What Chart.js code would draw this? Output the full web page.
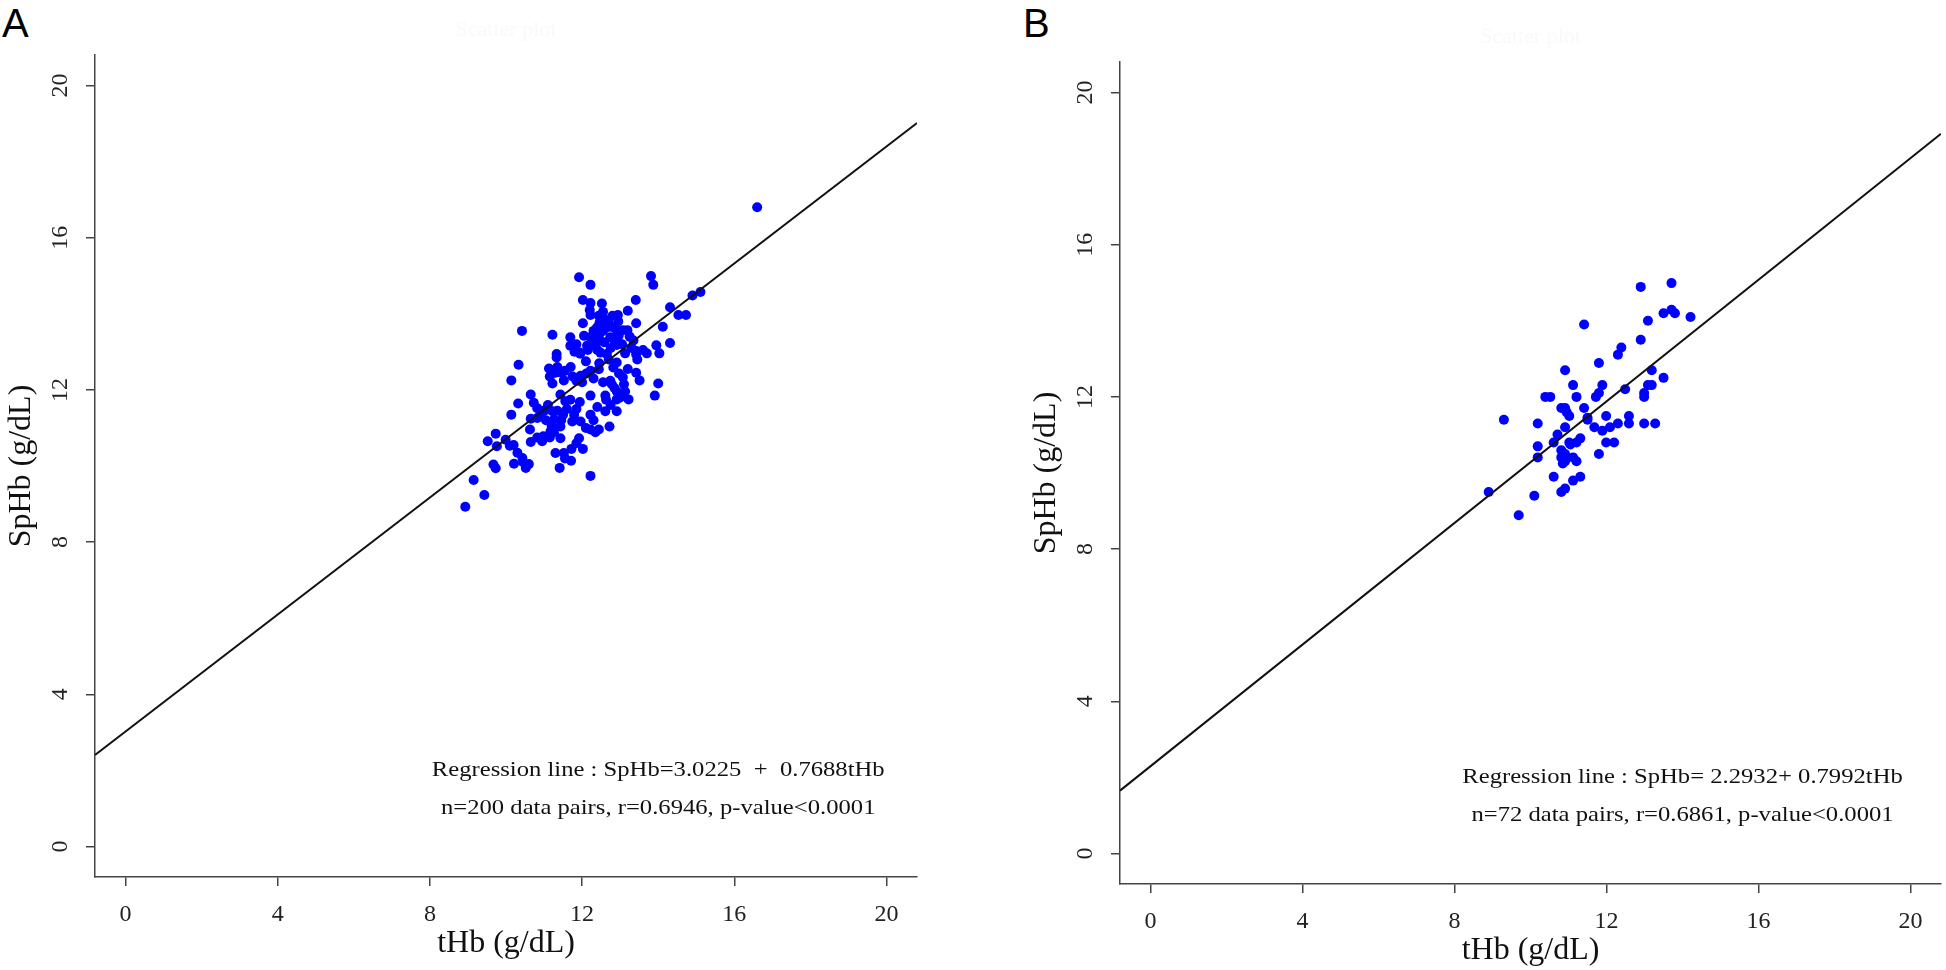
<!DOCTYPE html>
<html lang="en">
<head>
<meta charset="UTF-8">
<title>SpHb vs tHb</title>
<script src="https://cdn.jsdelivr.net/npm/chart.js"></script>
<style>
  body { margin: 0; background: #fff; width: 1946px; height: 970px; overflow: hidden; position: relative; }
  .panel { position: absolute; }
  .tag { position: absolute; font-family: 'Liberation Sans', Arial, sans-serif; font-size: 40px; line-height: 1; color: #000; }
</style>
</head>
<body>
<div class="tag" style="left:2px;top:3px">A</div>
<div class="tag" style="left:1023px;top:3px">B</div>
<div class="panel" style="left:0;top:0;width:960px;height:970px"><canvas id="chartA"></canvas></div>
<div class="panel" style="left:1025px;top:7px;width:921px;height:970px"><canvas id="chartB"></canvas></div>
<script>
// axis
const tickValues = [0, 4, 8, 12, 16, 20];
const axisMin = -0.8, axisMax = 20.8;

// panel A: 200 data pairs
const tHbA = [16.60, 11.92, 12.22, 13.81, 13.87, 12.02, 12.22, 12.52, 13.41, 14.31, 14.90, 15.11, 14.53, 14.73, 12.94, 13.20,
  12.22, 12.44, 12.02, 12.46, 12.69, 12.39, 12.65, 12.91, 13.19, 13.42, 14.12, 11.69, 12.05, 12.22, 12.44, 12.74, 12.96, 13.07,
  11.69, 11.85, 11.94, 12.13, 12.35, 12.48, 12.65, 12.91, 13.13, 13.42, 13.42, 13.70, 13.95, 14.03, 14.31, 10.42, 11.22, 11.33,
  11.33, 10.33, 10.14, 11.13, 11.30, 11.46, 11.52, 11.22, 11.85, 11.96, 12.11, 12.22, 12.44, 12.91, 12.82, 12.74, 12.78, 12.97,
  13.07, 12.91, 13.42, 13.51, 14.00, 13.91, 12.22, 12.61, 12.63, 12.91, 12.96, 13.13, 13.22, 12.91, 12.61, 12.22, 10.65, 10.32,
  10.14, 10.73, 10.82, 10.98, 10.82, 10.65, 11.22, 11.26, 11.43, 11.56, 11.69, 11.94, 11.79, 11.50, 11.74, 11.96, 11.92, 11.43,
  11.17, 11.43, 10.63, 10.82, 10.98, 11.26, 12.22, 12.35, 12.44, 12.72, 9.73, 9.52, 9.76, 9.99, 10.10, 10.65, 10.43, 10.21,
  10.52, 9.67, 9.73, 11.30, 11.52, 11.72, 11.71, 12.02, 11.41, 12.22, 9.15, 9.43, 8.93,
  12.30, 12.55, 12.80, 12.60, 12.35, 12.58, 12.85, 13.05, 12.15, 12.40, 12.75, 13.25, 13.30, 12.55, 12.80, 11.80, 11.35, 11.55,
  11.75, 12.00, 12.30, 12.55, 12.85, 13.00, 12.75, 12.40, 11.10, 11.00, 10.90, 11.05, 11.35, 11.60, 11.85, 11.45, 11.20, 10.95,
  11.15, 10.20, 10.30, 10.45, 10.60, 11.55, 11.85, 12.10, 12.30, 13.10, 13.20, 13.35, 13.60, 12.45, 12.70, 12.10, 11.70, 11.15,
  13.45, 12.95, 12.20, 11.95];
const spHbA = [16.80, 14.96, 14.76, 14.99, 14.76, 14.36, 14.28, 14.27, 14.36, 14.17, 14.48, 14.57, 13.97, 13.97, 13.97, 14.08,
  13.97, 13.95, 13.75, 13.77, 13.77, 13.64, 13.64, 13.57, 13.57, 13.75, 13.66, 13.38, 13.42, 13.38, 13.42, 13.38, 13.42, 13.57,
  13.16, 13.20, 12.98, 13.16, 13.16, 12.98, 12.94, 13.18, 12.96, 13.02, 12.93, 12.96, 13.17, 12.96, 13.23, 13.55, 13.45, 12.94,
  12.85, 12.66, 12.25, 12.56, 12.45, 12.45, 12.25, 12.17, 12.24, 12.37, 12.43, 12.50, 12.54, 12.72, 12.59, 12.24, 12.15, 12.43,
  12.33, 11.96, 12.45, 12.25, 12.17, 11.85, 11.85, 11.85, 11.74, 11.75, 11.91, 11.96, 11.75, 11.44, 11.44, 11.35, 11.88, 11.64,
  11.35, 11.66, 11.52, 11.44, 11.26, 11.24, 11.44, 11.22, 11.88, 11.70, 11.74, 11.68, 11.35, 11.35, 11.17, 11.17, 10.73, 11.04,
  10.91, 10.73, 10.96, 10.75, 10.78, 10.89, 10.96, 10.89, 10.96, 11.04, 10.85, 10.65, 10.52, 10.69, 10.53, 10.63, 10.21, 10.06,
  9.95, 10.04, 9.94, 10.34, 10.34, 10.45, 10.14, 10.45, 9.95, 9.74, 9.63, 9.24, 8.93,
  13.55, 13.55, 13.65, 13.85, 13.30, 13.25, 13.30, 13.20, 13.05, 13.05, 13.10, 13.40, 13.10, 14.05, 13.95, 13.00, 12.60, 12.50,
  12.35, 12.20, 12.30, 12.20, 12.05, 11.80, 11.60, 11.55, 11.60, 11.45, 11.30, 11.20, 11.45, 11.50, 11.50, 11.20, 11.05, 10.65,
  10.75, 10.55, 10.35, 10.10, 10.05, 10.20, 10.60, 11.00, 11.20, 12.15, 12.55, 13.30, 13.05, 12.70, 12.80, 12.75, 12.60, 12.35,
  12.80, 13.80, 14.10, 12.95];
const fitA = { a: 3.0225, b: 0.7688 };
const notesA = ['Regression line : SpHb=3.0225  +  0.7688tHb', 'n=200 data pairs, r=0.6946, p-value<0.0001'];

// panel B: 72 data pairs
const tHbB = [13.71, 12.90, 13.50, 13.71, 13.80, 14.21, 13.09, 11.41, 12.90, 12.39, 12.30, 11.80, 10.91, 13.19, 13.50, 11.12,
  11.89, 12.49, 13.09, 13.19, 12.99, 12.99, 10.39, 10.52, 11.21, 11.72, 11.80, 10.81, 10.91, 11.41, 11.02, 11.99, 12.59, 9.30,
  10.19, 11.50, 11.68, 11.89, 12.09, 12.30, 12.59, 12.99, 13.28, 10.91, 10.71, 10.61, 10.19, 11.02, 11.21, 11.31, 11.99, 12.20,
  10.81, 10.91, 10.81, 10.91, 11.12, 11.21, 10.19, 11.80, 10.61, 11.12, 11.31, 8.90, 10.81, 10.91, 10.10, 9.69, 10.85, 11.05,
  10.95, 11.50];
const spHbB = [14.99, 14.89, 14.20, 14.29, 14.20, 14.10, 14.00, 13.90, 13.50, 13.30, 13.11, 12.89, 12.70, 12.70, 12.50, 12.31,
  12.31, 12.20, 12.31, 12.31, 12.10, 12.00, 12.00, 12.00, 12.00, 12.00, 12.10, 11.71, 11.71, 11.71, 11.50, 11.50, 11.50, 11.40,
  11.30, 11.40, 11.20, 11.11, 11.20, 11.30, 11.30, 11.30, 11.30, 11.20, 11.01, 10.80, 10.70, 10.80, 10.80, 10.91, 10.80, 10.80,
  10.60, 10.50, 10.41, 10.31, 10.41, 10.31, 10.41, 10.50, 9.90, 9.80, 9.90, 9.50, 9.50, 9.59, 9.40, 8.89, 10.25, 10.75,
  11.60, 11.45];
const fitB = { a: 2.2932, b: 0.7992 };
const notesB = ['Regression line : SpHb= 2.2932+ 0.7992tHb', 'n=72 data pairs, r=0.6861, p-value<0.0001'];

const serif = "'Liberation Serif', 'Times New Roman', serif";

// regression text + faint header, placed through the scales
const notesPlugin = {
  id: 'notes',
  afterDatasetsDraw(chart, args, opts) {
    const ctx = chart.ctx;
    const sx = chart.scales.x, sy = chart.scales.y;
    ctx.save();
    ctx.fillStyle = '#111';
    ctx.font = '22px ' + serif;
    ctx.textAlign = 'center';
    ctx.textBaseline = 'middle';
    opts.lines.forEach((t, i) => {
      const px = sx.getPixelForValue(14);
      const py = sy.getPixelForValue(2 - i);
      ctx.save();
      ctx.translate(px, py);
      ctx.scale(1.12, 1);
      ctx.fillText(t, 0, 0);
      ctx.restore();
    });
    ctx.fillStyle = '#f9f9f9';
    ctx.fillText('Scatter plot', (chart.chartArea.left + chart.chartArea.right) / 2, chart.chartArea.top - 25);
    ctx.restore();
  }
};

function buildChart(id, xs, ys, fit, notes, padRight) {
  const points = xs.map((x, i) => ({ x: x, y: ys[i] }));
  const fitLine = [axisMin, axisMax].map(x => ({ x: x, y: fit.a + fit.b * x }));
  const axisCommon = {
    type: 'linear',
    min: axisMin,
    max: axisMax,
    afterBuildTicks: s => { s.ticks = tickValues.map(v => ({ value: v })); },
    grid: { drawOnChartArea: false, drawTicks: true, tickLength: 9, color: '#444', lineWidth: 1.5 },
    border: { display: true, color: '#444', width: 1.5 }
  };
  return new Chart(document.getElementById(id), {
    type: 'scatter',
    data: {
      datasets: [
        { data: points, backgroundColor: '#0000ff', borderWidth: 0, pointRadius: 5, pointHoverRadius: 5, order: 2 },
        { type: 'line', data: fitLine, borderColor: '#111', borderWidth: 2, pointRadius: 0, fill: false, order: 1 }
      ]
    },
    options: {
      responsive: true,
      maintainAspectRatio: false,
      animation: false,
      layout: { padding: { top: 55, right: padRight, left: 0, bottom: 0 } },
      plugins: { legend: { display: false }, tooltip: { enabled: false }, notes: { lines: notes } },
      scales: {
        x: Object.assign({}, axisCommon, {
          afterFit: s => { s.height = 93; },
          ticks: { font: { family: serif, size: 24 }, color: '#222', padding: 14, maxRotation: 0 },
          title: { display: true, text: 'tHb (g/dL)', font: { family: serif, size: 32 }, color: '#111', padding: { top: 0, bottom: 7 } }
        }),
        y: Object.assign({}, axisCommon, {
          afterFit: s => { s.width = 95; },
          ticks: { font: { family: serif, size: 24 }, color: '#222', padding: 13, minRotation: 90, maxRotation: 90, crossAlign: 'center' },
          title: { display: true, text: 'SpHb (g/dL)', font: { family: serif, size: 32 }, color: '#111', padding: { top: 2, bottom: 0 } }
        })
      }
    },
    plugins: [notesPlugin]
  });
}

buildChart('chartA', tHbA, spHbA, fitA, notesA, 43);
buildChart('chartB', tHbB, spHbB, fitB, notesB, 4);
</script>
</body>
</html>
